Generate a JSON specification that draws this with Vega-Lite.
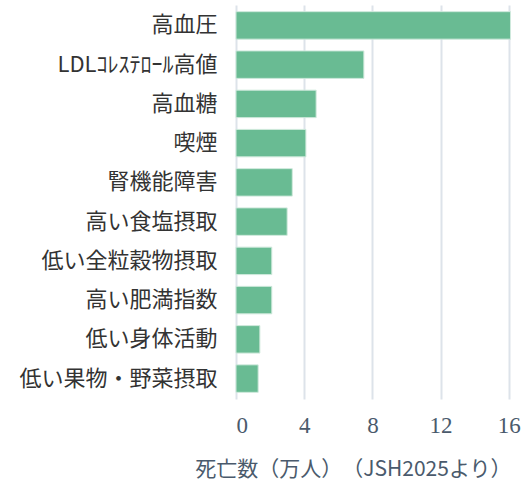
{
  "$schema": "https://vega.github.io/schema/vega-lite/v6.json",
  "autosize": {"type": "none"},
  "padding": {"left": 236, "top": 5, "right": 10, "bottom": 84},
  "width": 275,
  "height": 394,
  "background": "white",
  "config": {"view": {"stroke": null}},
  "data": {"values": [
    {"factor": "高血圧", "deaths": 16.1},
    {"factor": "LDLｺﾚｽﾃﾛｰﾙ高値", "deaths": 7.5},
    {"factor": "高血糖", "deaths": 4.7},
    {"factor": "喫煙", "deaths": 4.1},
    {"factor": "腎機能障害", "deaths": 3.3},
    {"factor": "高い食塩摂取", "deaths": 3.0},
    {"factor": "低い全粒穀物摂取", "deaths": 2.1},
    {"factor": "高い肥満指数", "deaths": 2.1},
    {"factor": "低い身体活動", "deaths": 1.4},
    {"factor": "低い果物・野菜摂取", "deaths": 1.3}
  ]},
  "mark": {"type": "bar", "color": "#69bb93", "stroke": "#cfe9dc", "strokeWidth": 1},
  "encoding": {
    "y": {
      "field": "factor", "type": "nominal", "sort": null,
      "scale": {"paddingInner": 0.3, "paddingOuter": 0.17},
      "axis": {
        "title": null, "domain": false, "ticks": false,
        "labelPadding": 19, "labelFont": "Noto Sans CJK JP",
        "labelFontSize": 22, "labelColor": "#333333", "labelLimit": 300
      }
    },
    "x": {
      "field": "deaths", "type": "quantitative",
      "scale": {"domain": [0, 16.13], "nice": false},
      "axis": {
        "values": [0, 4, 8, 12, 16],
        "domain": false, "ticks": false,
        "grid": true, "gridColor": "#dde3ea", "gridWidth": 2,
        "labelPadding": 15, "labelFont": "Liberation Sans Narrow",
        "labelFontSize": 23, "labelColor": "#4a5a6c",
        "title": "死亡数（万人）　（JSH2025より）",
        "titleFont": "Noto Sans CJK JP", "titleFontSize": 21,
        "titleFontWeight": "normal", "titleColor": "#4a5a6c",
        "titlePadding": 21, "titleAnchor": "end"
      }
    }
  }
}
